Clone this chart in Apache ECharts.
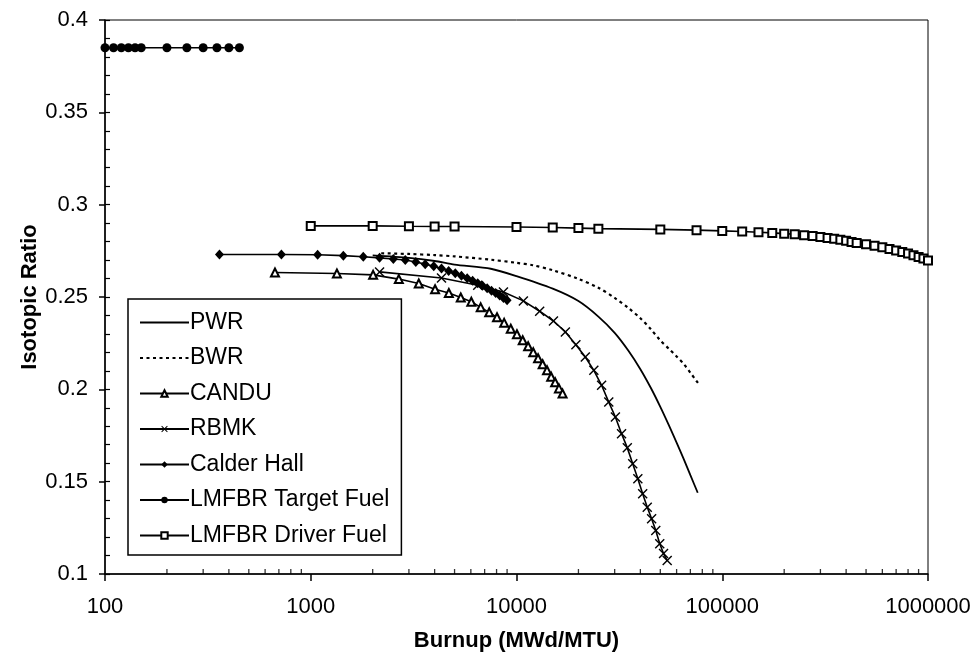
<!DOCTYPE html>
<html>
<head>
<meta charset="utf-8">
<script src="https://cdn.jsdelivr.net/npm/echarts@6/dist/echarts.min.js"></script>
<style>
  html, body { margin: 0; padding: 0; background: #fff; }
  #chart { width: 978px; height: 662px; }
</style>
</head>
<body>
<div id="chart"></div>
<script>
// series values
const pwrX = [2000, 3000, 4000, 5000, 7500, 10000, 15000, 20000, 25000, 30000, 35000, 40000, 45000, 50000, 55000, 60000, 65000, 70000, 76000]
const pwrY = [0.2725, 0.2712, 0.2695, 0.2675, 0.2653, 0.2613, 0.2545, 0.2478, 0.2394, 0.2306, 0.2209, 0.2109, 0.2007, 0.1905, 0.1806, 0.1712, 0.1622, 0.1535, 0.1440]

const bwrX = [2200, 3000, 4000, 5000, 7500, 10000, 12000, 15000, 20000, 25000, 30000, 35000, 40000, 45000, 50000, 55000, 60000, 65000, 70000, 75000, 78000]
const bwrY = [0.2737, 0.2733, 0.2727, 0.2720, 0.2702, 0.2685, 0.2672, 0.2645, 0.2598, 0.2550, 0.2495, 0.2440, 0.2385, 0.2325, 0.2265, 0.2220, 0.2178, 0.2137, 0.2090, 0.2045, 0.2020]

const canduX = [670, 1340, 2010, 2680, 3350, 4020, 4690, 5360, 6030, 6700, 7370, 8040, 8710, 9380, 10050, 10720, 11390, 12060, 12730, 13400, 14070, 14740, 15410, 16080, 16750]
const canduY = [0.2633, 0.2627, 0.2620, 0.2597, 0.2573, 0.2542, 0.2522, 0.2497, 0.2474, 0.2444, 0.2417, 0.2390, 0.2360, 0.2328, 0.2298, 0.2266, 0.2233, 0.2201, 0.2168, 0.2136, 0.2103, 0.2068, 0.2038, 0.2005, 0.1977]

const rbmkX = [2160, 4320, 6480, 8640, 10800, 12960, 15120, 17280, 19440, 21600, 23760, 25920, 28080, 30240, 32400, 34560, 36720, 38880, 41040, 43200, 45360, 47520, 49680, 51840, 54000]
const rbmkY = [0.2636, 0.2603, 0.2564, 0.2527, 0.2479, 0.2423, 0.2370, 0.2311, 0.2242, 0.2175, 0.2103, 0.2022, 0.1931, 0.1850, 0.1760, 0.1683, 0.1597, 0.1516, 0.1435, 0.1362, 0.1299, 0.1236, 0.1164, 0.1111, 0.1073]

const calderX = [360, 720, 1080, 1440, 1800, 2160, 2520, 2880, 3240, 3600, 3960, 4320, 4680, 5040, 5400, 5760, 6120, 6480, 6840, 7200, 7560, 7920, 8280, 8640, 9000]
const calderY = [0.2730, 0.2730, 0.2729, 0.2724, 0.2718, 0.2712, 0.2706, 0.2700, 0.2690, 0.2678, 0.2666, 0.2654, 0.2641, 0.2628, 0.2615, 0.2601, 0.2588, 0.2575, 0.2561, 0.2547, 0.2534, 0.2521, 0.2508, 0.2495, 0.2482]

const targetX = [100, 110, 120, 130, 140, 150, 200, 250, 300, 350, 400, 450]
const targetY = [0.385, 0.385, 0.385, 0.385, 0.385, 0.385, 0.385, 0.385, 0.385, 0.385, 0.385, 0.385]

const driverX = [1000, 2000, 3000, 4000, 5000, 10000, 15000, 20000, 25000, 50000, 75000, 100000, 125000, 150000, 175000, 200000, 225000, 250000, 275000, 300000, 325000, 350000, 375000, 400000, 425000, 450000, 500000, 550000, 600000, 650000, 700000, 750000, 800000, 850000, 900000, 950000, 1000000]
const driverY = [0.2885, 0.2885, 0.2883, 0.2882, 0.2882, 0.2879, 0.2876, 0.2873, 0.2870, 0.2866, 0.2862, 0.2858, 0.2855, 0.2851, 0.2847, 0.2843, 0.2840, 0.2835, 0.2830, 0.2825, 0.2820, 0.2815, 0.2810, 0.2804, 0.2798, 0.2792, 0.2785, 0.2777, 0.2769, 0.2760, 0.2752, 0.2744, 0.2735, 0.2726, 0.2717, 0.2708, 0.2698]

// minor ticks of the log axis (2..9 in each decade)
const xMinorTicks = [200, 300, 400, 500, 600, 700, 800, 900,
  2000, 3000, 4000, 5000, 6000, 7000, 8000, 9000,
  20000, 30000, 40000, 50000, 60000, 70000, 80000, 90000,
  200000, 300000, 400000, 500000, 600000, 700000, 800000, 900000]

const names = ['PWR', 'BWR', 'CANDU', 'RBMK', 'Calder Hall', 'LMFBR Target Fuel', 'LMFBR Driver Fuel']
const FONT = '"Liberation Sans", Arial, sans-serif'
const xPath = 'path://M0,1L1,0L5,4L9,0L10,1L6,5L10,9L9,10L5,6L1,10L0,9L4,5Z'

const pairs = (xs, ys) => xs.map((x, i) => [x, ys[i]])

function lineSeries(name, xs, ys, opts) {
  return Object.assign({
    name: name,
    type: 'line',
    data: pairs(xs, ys),
    showSymbol: true,
    symbol: 'none',
    color: '#000',
    lineStyle: { color: '#000', width: 1.6 },
    itemStyle: { color: '#000' },
    animation: false,
    silent: true
  }, opts)
}

// no marker in the legend for the plain lines
const hideMarker = { color: 'transparent', borderColor: 'transparent', borderWidth: 0, opacity: 0 }
const legendData = names.map(n => (n === 'PWR' || n === 'BWR') ? { name: n, itemStyle: hideMarker } : { name: n })

const chart = echarts.init(document.getElementById('chart'))
chart.setOption({
  backgroundColor: '#fff',
  animation: false,
  grid: {
    left: 105,
    right: 50,
    top: 20,
    bottom: 88,
    show: true,
    borderColor: '#000',
    borderWidth: 1,
    backgroundColor: 'transparent'
  },
  legend: {
    data: legendData,
    orient: 'vertical',
    left: 128,
    top: 299,
    padding: [12, 12, 8, 11],
    itemGap: 12.5,
    itemWidth: 49,
    itemHeight: 8,
    backgroundColor: '#fff',
    borderColor: '#000',
    borderWidth: 1.5,
    borderRadius: 0,
    textStyle: { fontSize: 23, color: '#000', fontFamily: FONT, padding: [0, 0, 0, -4] },
    selectedMode: false
  },
  xAxis: {
    type: 'log',
    logBase: 10,
    min: 100,
    max: 1000000,
    name: 'Burnup (MWd/MTU)',
    nameLocation: 'middle',
    nameGap: 56,
    nameMoveOverlap: false,
    nameTextStyle: { fontSize: 22, fontWeight: 'bold', color: '#000', fontFamily: FONT },
    axisLine: { lineStyle: { color: '#000', width: 1.5 } },
    axisTick: { length: 7, lineStyle: { color: '#000', width: 1.5 } },
    axisLabel: {
      margin: 22,
      fontSize: 22,
      color: '#000',
      fontFamily: FONT,
      formatter: v => String(Math.round(v))
    },
    splitLine: { show: false }
  },
  yAxis: [
    {
      type: 'value',
      min: 0.1,
      max: 0.4,
      interval: 0.05,
      name: 'Isotopic Ratio',
      nameLocation: 'middle',
      nameGap: 64,
      nameMoveOverlap: false,
      nameTextStyle: { fontSize: 22, fontWeight: 'bold', color: '#000', fontFamily: FONT },
      axisLine: { show: true, lineStyle: { color: '#000', width: 1.5 } },
      axisTick: { show: true, length: 6, lineStyle: { color: '#000', width: 1.5 } },
      axisLabel: { margin: 17, fontSize: 22, color: '#000', fontFamily: FONT },
      splitLine: { show: false }
    },
    {
      // inside minor ticks
      type: 'value',
      min: 0.1,
      max: 0.4,
      interval: 0.01,
      position: 'left',
      axisLine: { show: false },
      axisTick: { show: true, inside: true, length: 5, lineStyle: { color: '#000', width: 1.2 } },
      axisLabel: { show: false },
      splitLine: { show: false }
    }
  ],
  series: [
    lineSeries('PWR', pwrX, pwrY, { symbol: 'none', smooth: 0.25, lineStyle: { color: '#000', width: 1.8 } }),
    lineSeries('BWR', bwrX, bwrY, {
      symbol: 'none',
      smooth: 0.3,
      lineStyle: { color: '#000', width: 2.2, type: [3, 3.5] }
    }),
    lineSeries('CANDU', canduX, canduY, {
      symbol: 'emptyTriangle',
      symbolSize: 8,
      itemStyle: { color: '#000', borderWidth: 1.6 }
    }),
    lineSeries('RBMK', rbmkX, rbmkY, {
      symbol: xPath,
      symbolSize: 10
    }),
    lineSeries('Calder Hall', calderX, calderY, {
      symbol: 'diamond',
      symbolSize: [9, 10]
    }),
    lineSeries('LMFBR Target Fuel', targetX, targetY, {
      symbol: 'circle',
      symbolSize: 9
    }),
    lineSeries('LMFBR Driver Fuel', driverX, driverY, {
      symbol: 'emptyRect',
      symbolSize: 8,
      itemStyle: { color: '#000', borderWidth: 2.2 }
    }),
    {
      name: 'minorTicks',
      type: 'scatter',
      data: xMinorTicks.map(v => [v, 0.1]),
      symbol: 'rect',
      symbolSize: [1.3, 5],
      symbolOffset: [0, -2.5],
      itemStyle: { color: '#000' },
      clip: false,
      silent: true,
      animation: false,
      z: 5
    }
  ]
})
</script>
</body>
</html>
